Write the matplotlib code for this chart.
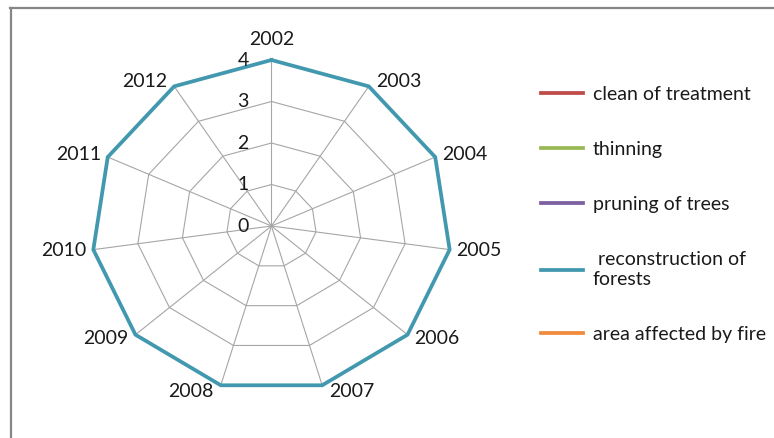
import matplotlib
matplotlib.use("Agg")
import matplotlib.pyplot as plt
import numpy as np
from matplotlib.lines import Line2D

plt.rcParams['font.family'] = ['Lato', 'DejaVu Sans']

# data
years = ['2002', '2003', '2004', '2005', '2006', '2007',
         '2008', '2009', '2010', '2011', '2012']
clean_of_treatment = [0, 0, 0, 0, 0, 0, 0, 0, 0, 0, 0]
thinning = [0, 0, 0, 0, 0, 0, 0, 0, 0, 0, 0]
pruning_of_trees = [0, 0, 0, 0, 0, 0, 0, 0, 0, 0, 0]
reconstruction_of_forests = [4, 4, 4, 4, 4, 4, 4, 4, 4, 4, 4]
area_affected_by_fire = [0, 0, 0, 0, 0, 0, 0, 0, 0, 0, 0]
r_levels = [0, 1, 2, 3, 4]

series = [
    ("clean of treatment", clean_of_treatment, '#BE4B48'),
    ("thinning", thinning, '#98B954'),
    ("pruning of trees", pruning_of_trees, '#7D60A0'),
    (" reconstruction of\nforests", reconstruction_of_forests, '#4198AF'),
    ("area affected by fire", area_affected_by_fire, '#F08A3C'),
]

FS = 14
fig = plt.figure(figsize=(7.74, 4.38), dpi=100)
ax = fig.add_axes([0.1182, 0.105, 0.4651, 0.758], projection='polar')
ax.set_aspect('auto')
ax.set_theta_zero_location('N')
ax.set_theta_direction(-1)

angles = np.linspace(0, 2 * np.pi, len(years), endpoint=False)
closed = np.append(angles, angles[0])

# polygon grid
for lv in r_levels[1:]:
    ax.plot(closed, [lv] * (len(years) + 1), color='#A6A6A6', lw=0.8,
            zorder=1, clip_on=False)

for name, vals, col in series:
    v = list(vals) + [vals[0]]
    ax.plot(closed, v, color=col, lw=2.7, label=name, zorder=3,
            clip_on=False, solid_joinstyle='miter')

ax.set_ylim(0, 4)
ax.set_yticks(r_levels)
ax.set_yticklabels([])
ax.yaxis.grid(False)
ax.set_xticks(angles)
ax.set_xticklabels([])
ax.xaxis.grid(True, color='#A6A6A6', lw=0.8)
ax.spines['polar'].set_visible(False)

# category labels, excel style
rmax = r_levels[-1]
for a, yr in zip(angles, years):
    s, c = np.sin(a), np.cos(a)
    if abs(s) < 1e-6:
        ax.annotate(yr, (a, rmax), xytext=(0, 9), textcoords='offset points',
                    ha='center', va='bottom', fontsize=FS, color='#1a1a1a')
    else:
        ax.annotate(yr, (a, rmax), xytext=(5 * np.sign(s), 4.5 * c),
                    textcoords='offset points',
                    ha='left' if s > 0 else 'right', va='center',
                    fontsize=FS, color='#1a1a1a')

for lv in r_levels:
    ax.annotate(str(lv), (0, lv), xytext=(-16.5, 0), textcoords='offset points',
                ha='right', va='center', fontsize=FS, color='#1a1a1a')

leg = fig.legend(loc='upper left', bbox_to_anchor=(541 / 774, 1 - 86 / 438),
                 frameon=False, fontsize=FS, handlelength=2.15,
                 handletextpad=0.5, labelspacing=1.96, borderpad=0,
                 borderaxespad=0)
for t in leg.get_texts():
    t.set_color('#1a1a1a')

# chart area border (top and left visible)
fig.add_artist(Line2D([10 / 774, 1], [1 - 7.5 / 438, 1 - 7.5 / 438],
                      transform=fig.transFigure, color='#868686', lw=1.6))
fig.add_artist(Line2D([10.5 / 774, 10.5 / 774], [0, 1 - 7.5 / 438],
                      transform=fig.transFigure, color='#868686', lw=1.6))

fig.savefig('out.png', dpi=100)
